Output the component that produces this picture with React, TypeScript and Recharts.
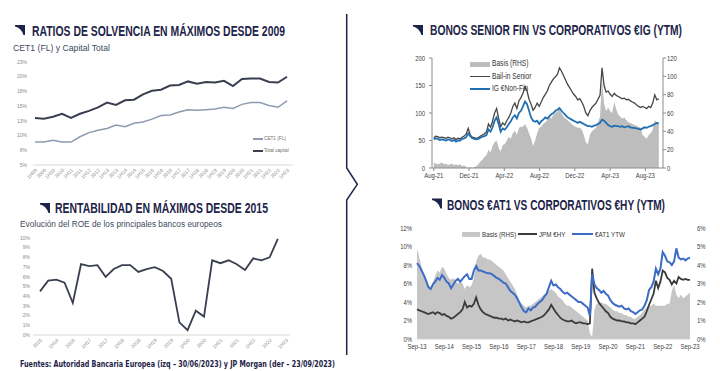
import React from "react";
import { ComposedChart, LineChart, Line, Area, XAxis, YAxis, Legend } from "recharts";

const NAVY = "#1d2449";
const SANS = "'Liberation Sans', Arial, sans-serif";

// ---- Ratios de solvencia (CET1 FL y Capital Total, %)
const SOLV_LABELS = [
  "1H09", "2009", "1H10", "2010", "1H11", "2011", "1H12", "2012", "1H13", "2013",
  "1H14", "2014", "1H15", "2015", "1H16", "2016", "1H17", "2017", "1H18", "2018",
  "1H19", "2019", "1H20", "2020", "1H21", "2021", "1H22", "2022", "1H23",
];
const CET1 = [
  8.9, 8.9, 9.2, 8.9, 8.9, 9.8, 10.5, 10.9, 11.2, 11.8, 11.5, 12.1, 12.3, 12.8, 13.4,
  13.5, 14.0, 14.4, 14.3, 14.4, 14.5, 14.8, 14.6, 15.3, 15.6, 15.6, 15.1, 14.8, 15.9,
];
const TOTAL_CAPITAL = [
  13.0, 12.85, 13.2, 13.7, 13.0, 13.7, 14.2, 14.8, 15.6, 15.2, 16.0, 16.1, 17.0, 17.6, 17.8,
  18.5, 18.6, 19.2, 18.8, 19.1, 19.0, 19.3, 18.4, 19.6, 19.7, 19.7, 19.1, 19.0, 20.0,
];
const SOLV_TICKS = [5, 7.5, 10, 12.5, 15, 17.5, 20, 22.5];

// ---- ROE principales bancos europeos (%), trimestral
const ROE_PERIODS = [
  "2015", "1Q16", "1H16", "3Q16", "2016", "1Q17", "1H17", "3Q17", "2017", "1Q18", "1H18",
  "3Q18", "2018", "1Q19", "1H19", "3Q19", "2019", "1Q20", "1H20", "3Q20", "2020", "1Q21",
  "1H21", "3Q21", "2021", "1Q22", "1H22", "3Q22", "2022", "1Q23", "1H23",
];
const ROE = [
  4.5, 5.6, 5.7, 5.4, 3.3, 7.3, 7.1, 7.2, 6.0, 6.8, 7.2, 7.2, 6.5, 6.8, 7.0,
  6.6, 5.8, 1.3, 0.5, 2.5, 1.9, 7.7, 7.4, 7.7, 7.3, 6.7, 7.9, 7.7, 8.0, 9.9, null,
];

// ---- Bonos senior fin vs corporativos €IG (semanal, Aug-21 a Sep-23)
const SENIOR_TICK_LABELS = ["Aug-21", "Dec-21", "Apr-22", "Aug-22", "Dec-22", "Apr-23", "Aug-23"];
const BAIL_IN = [
  55, 58, 57, 55, 56, 55, 54, 56, 55, 53, 55, 52, 54, 53, 56, 58, 62, 72, 60, 56, 55, 54,
  55, 58, 60, 62, 66, 80, 74, 85, 100, 108, 90, 75, 82, 78, 86, 92, 100, 112, 118, 108, 122, 128,
  136, 148, 140, 125, 116, 105, 110, 118, 112, 120, 128, 134, 140, 150, 156, 162, 166,
  170, 182, 176, 168, 160, 152, 146, 140, 134, 130, 124, 126, 120, 112, 100, 95, 104, 110,
  114, 118, 125, 132, 182, 150, 138, 140, 134, 130, 136, 132, 130, 128, 126, 127, 124,
  125, 122, 120, 118, 115, 112, 110, 112, 110, 108, 112, 110, 118, 133, 124, 126,
];
const IG_NONFIN = [
  52, 54, 53, 51, 52, 51, 50, 52, 51, 49, 51, 48, 50, 50, 53, 54, 56, 63, 58, 54, 53, 52,
  53, 55, 57, 58, 60, 70, 66, 74, 86, 92, 80, 66, 72, 70, 74, 80, 85, 92, 96, 90, 100, 104,
  112, 121, 116, 104, 92, 86, 84, 86, 80, 85, 88, 92, 90, 94, 98, 100, 104,
  106, 109, 104, 100, 96, 92, 90, 88, 86, 84, 82, 84, 82, 80, 78, 76, 76, 75,
  77, 78, 80, 82, 88, 86, 82, 78, 76, 75, 77, 76, 76, 75, 76, 74, 75,
  76, 74, 73, 73, 72, 71, 70, 72, 74, 73, 75, 76, 78, 80, 82, 81,
];
const BASIS_IG = [
  6, 5, 4, 5, 6, 4, 5, 3, 4, 5, 3, 4, 3, 4, 2, 3, 1, 0, 1, 0, 1, 2,
  4, 7, 9, 12, 14, 20, 17, 24, 28, 30, 22, 18, 25, 26, 30, 34, 32, 38, 41, 36, 44, 45,
  45, 48, 44, 38, 32, 24, 30, 38, 44, 45, 48, 50, 52, 56, 54, 58, 60,
  62, 64, 60, 56, 54, 52, 50, 48, 46, 45, 44, 44, 42, 36, 28, 26, 36, 40,
  42, 44, 50, 56, 96, 70, 62, 66, 62, 60, 72, 64, 58, 56, 54, 55, 52,
  50, 49, 48, 47, 46, 45, 44, 36, 34, 32, 36, 38, 42, 52, 50, 48,
];

// ---- Bonos €AT1 vs corporativos €HY (mensual, Sep-13 a Sep-23, %)
const AT1_TICK_LABELS = [
  "Sep-13", "Sep-14", "Sep-15", "Sep-16", "Sep-17", "Sep-18",
  "Sep-19", "Sep-20", "Sep-21", "Sep-22", "Sep-23",
];
const AT1_YTW = [
  8.2, 7.9, 7.4, 6.9,
  6.3, 5.6, 5.4, 5.9, 6.2, 6.6, 6.4, 6.9, 6.6, 6.2, 6.0, 5.5,
  5.9, 6.3, 6.5, 6.2, 6.5, 6.8, 7.0, 6.5, 6.5, 7.4, 7.9, 7.4,
  7.4, 7.3, 7.2, 7.1, 7.1, 7.0, 6.8, 6.6, 6.5, 6.3, 6.1, 6.0,
  5.6, 5.2, 5.0, 4.8, 4.4, 3.9, 3.4, 3.0, 2.9, 3.3, 3.1, 3.4,
  3.5, 3.8, 4.0, 4.2, 4.6, 4.9, 5.6, 6.3, 5.8, 5.9, 5.6, 5.4,
  5.1, 4.9, 5.0, 4.8, 4.6, 4.4, 4.2, 4.0, 4.0, 3.8, 3.6, 3.4,
  2.5, 7.0, 5.9, 5.5, 5.3, 5.0, 5.2, 4.9, 4.7, 4.2, 3.9, 3.7,
  3.6, 3.5, 3.6, 3.3, 3.2, 3.3, 3.0, 2.9, 2.7, 2.9, 3.1, 3.2,
  3.6, 4.2, 5.3, 5.6, 6.2, 7.6, 7.0, 7.6, 9.4, 9.0, 8.4, 8.3,
  8.0, 8.4, 9.8, 8.8, 8.6, 8.7, 8.5, 8.7, 8.8,
];
const JPM_HY = [
  3.2, 3.1, 3.0, 2.9,
  2.8, 2.7, 2.8, 2.9, 2.7, 2.9, 2.8, 2.6, 2.7, 2.5, 2.4, 2.2,
  2.3, 2.5, 2.7, 2.9, 3.2, 4.0, 3.4, 3.6, 3.5, 3.8, 4.5, 3.7,
  3.2, 2.9, 2.7, 2.6, 2.5, 2.4, 2.3, 2.3, 2.2, 2.2, 2.1, 2.2,
  2.0, 2.1, 2.0, 1.9, 2.0, 1.9, 1.8, 1.9, 1.8, 1.8, 1.9, 2.0,
  2.1, 2.2, 2.3, 2.4, 2.6, 2.9, 3.2, 3.7, 3.3, 2.9, 2.6, 2.3,
  2.1, 2.0, 1.9, 1.9, 2.0, 1.8, 1.7, 1.8, 1.8, 1.7, 1.7, 1.6,
  1.7, 7.6, 5.0, 4.4, 3.9, 3.6, 3.3, 3.0, 2.8, 2.4, 2.2, 2.1,
  2.0, 2.0, 1.9, 1.9, 1.8, 1.8, 1.7, 1.7, 1.6, 1.8, 2.0, 2.2,
  2.4, 3.0, 3.7, 4.3, 4.9, 6.3, 5.5, 6.2, 7.4, 7.2, 6.6, 6.4,
  5.9, 6.3, 6.0, 6.7, 6.5, 6.4, 6.5, 6.4, 6.4,
];
const BASIS_HY = [
  4.9, 4.4, 3.9, 3.5,
  3.1, 2.9, 2.8, 3.1, 3.4, 3.7, 3.6, 3.9, 3.8, 3.5, 3.3, 3.2,
  3.3, 3.1, 3.0, 3.1, 3.0, 2.7, 2.9, 2.8, 2.9, 3.3, 4.2, 4.5,
  4.6, 4.4, 4.4, 4.3, 4.3, 4.2, 4.1, 4.0, 3.9, 3.8, 3.7, 3.5,
  3.3, 3.1, 2.9, 2.7, 2.4, 2.1, 1.9, 1.8, 1.7, 1.8, 1.8, 1.9,
  2.0, 2.1, 2.2, 2.3, 2.4, 2.5, 2.6, 2.7, 2.6, 2.5, 2.3, 2.2,
  2.1, 1.9, 1.8, 1.8, 1.7, 1.6, 1.5, 1.4, 1.3, 1.2, 1.1, 1.0,
  0.3, 0.1, 1.6, 1.9, 1.9, 2.0, 1.9, 1.9, 1.8, 1.7, 1.6, 1.5,
  1.5, 1.4, 1.4, 1.3, 1.3, 1.2, 1.2, 1.1, 1.1, 1.2, 1.3, 1.4,
  1.6, 1.7, 1.8, 1.8, 1.9, 1.8, 1.8, 1.8, 1.8, 1.8, 1.9, 1.9,
  2.6, 2.9, 2.4, 2.2, 2.4, 2.2, 2.3, 2.4, 2.5,
];

const CET1_COLOR = "#8d9bb0";
const TOTAL_COLOR = "#3a3f50";
const BAIL_COLOR = "#474747";
const IG_COLOR = "#1f6fb2";
const AT1_COLOR = "#3d6cc6";
const HY_COLOR = "#3b3b3b";

const solvData = SOLV_LABELS.map((label, i) => ({ label, cet1: CET1[i], total: TOTAL_CAPITAL[i] }));
const roeData = ROE_PERIODS.map((period, i) => ({ period, roe: ROE[i] }));
// semanas desde el 2-ago-2021, expresadas en meses
const seniorData = BAIL_IN.map((v, i) => ({
  x: (i * 7) / 30.44,
  bailIn: v,
  ig: IG_NONFIN[i],
  basis: BASIS_IG[i],
}));
const at1Data = AT1_YTW.map((v, i) => ({ m: i, at1: v, hy: JPM_HY[i], basis: BASIS_HY[i] }));

const smallTick = { fontSize: 5, fill: "#8a8a8a", fontFamily: SANS };

// narrow ticks (the reference uses a condensed face)
function narrowTick(anchor: "start" | "middle" | "end", dy: string, fmt: (v: number, i: number) => string) {
  return (props: any) => {
    const { x, y, payload, index } = props;
    return (
      <text
        transform={`translate(${x},${y}) scale(0.78,1)`}
        textAnchor={anchor}
        dy={dy}
        fontSize={7.6}
        fill="#404040"
        fontFamily={SANS}
      >
        {fmt(payload.value, index)}
      </text>
    );
  };
}

const Narrow = ({ children, k = 0.8 }: { children: React.ReactNode; k?: number }) => (
  <span style={{ display: "inline-block", transform: `scaleX(${k})`, transformOrigin: "left center", whiteSpace: "nowrap" }}>
    {children}
  </span>
);

const SolvLegend = () => (
  <div style={{ fontFamily: SANS, fontSize: 5.5, color: "#707070", lineHeight: "11.7px" }}>
    {[
      { name: "CET1 (FL)", color: CET1_COLOR, w: 1.5 },
      { name: "Total capital", color: TOTAL_COLOR, w: 2 },
    ].map((d) => (
      <div key={d.name} style={{ display: "flex", alignItems: "center", height: 11.7 }}>
        <span style={{ display: "inline-block", width: 10, height: d.w, background: d.color, marginRight: 1 }} />
        <Narrow k={0.85}>{d.name}</Narrow>
      </div>
    ))}
  </div>
);

const SeniorLegend = () => (
  <div style={{ fontFamily: SANS, fontSize: 8.2, color: "#333", lineHeight: "12.5px" }}>
    {[
      { name: "Basis (RHS)", color: "#bdbdbd", h: 5 },
      { name: "Bail-in Senior", color: BAIL_COLOR, h: 1.3 },
      { name: "IG €Non-Fin", color: IG_COLOR, h: 1.8 },
    ].map((d) => (
      <div key={d.name} style={{ display: "flex", alignItems: "center", height: 12.5 }}>
        <span style={{ display: "inline-block", width: 20, height: d.h, background: d.color, marginRight: 2 }} />
        <Narrow k={0.81}>{d.name}</Narrow>
      </div>
    ))}
  </div>
);

const At1Legend = () => (
  <div style={{ position: "relative", fontFamily: SANS, fontSize: 7.8, color: "#333", height: 10 }}>
    {[
      { name: "Basis (RHS)", color: "#c6c6c6", h: 5, x: 0, w: 18 },
      { name: "JPM €HY", color: HY_COLOR, h: 1.8, x: 56, w: 19 },
      { name: "€AT1 YTW", color: AT1_COLOR, h: 2, x: 110, w: 21 },
    ].map((d) => (
      <div key={d.name} style={{ position: "absolute", left: d.x, top: 0, display: "flex", alignItems: "center", height: 10, whiteSpace: "nowrap" }}>
        <span style={{ display: "inline-block", width: d.w, height: d.h, background: d.color, marginRight: 1.5 }} />
        <Narrow k={0.8}>{d.name}</Narrow>
      </div>
    ))}
  </div>
);

function SolvencyChart() {
  return (
    <LineChart width={300} height={190} data={solvData} margin={{ top: 62, right: 7, bottom: 0, left: 0 }}>
      <XAxis
        dataKey="label"
        interval={0}
        angle={-45}
        textAnchor="end"
        height={25}
        padding={{ left: 2, right: 6 }}
        tick={smallTick}
        tickLine={false}
        tickSize={0}
        tickMargin={3}
        axisLine={{ stroke: "#d9d9d9" }}
      />
      <YAxis
        width={33}
        domain={[5, 22.5]}
        ticks={SOLV_TICKS}
        interval={0}
        tickFormatter={(v: number) => `${Math.round(v)}%`}
        tick={smallTick}
        axisLine={false}
        tickLine={false}
        tickSize={0}
        tickMargin={6}
      />
      <Line dataKey="cet1" stroke={CET1_COLOR} strokeWidth={1.5} dot={false} isAnimationActive={false} />
      <Line dataKey="total" stroke={TOTAL_COLOR} strokeWidth={2} dot={false} isAnimationActive={false} />
      <Legend
        layout="horizontal"
        verticalAlign="middle"
        align="center"
        wrapperStyle={{ left: 253, top: 133, width: 60, height: 24 }}
        content={() => <SolvLegend />}
      />
    </LineChart>
  );
}

function RoeChart() {
  return (
    <LineChart width={300} height={175} data={roeData} margin={{ top: 48, right: 10, bottom: 0, left: 0 }}>
      <XAxis
        dataKey="period"
        interval={1}
        angle={-45}
        textAnchor="end"
        height={30}
        padding={{ left: 7, right: 4 }}
        tick={smallTick}
        tickLine={false}
        tickSize={0}
        tickMargin={3}
        axisLine={{ stroke: "#d9d9d9" }}
      />
      <YAxis
        width={33}
        domain={[0, 10]}
        ticks={[0, 1, 2, 3, 4, 5, 6, 7, 8, 9, 10]}
        interval={0}
        tickFormatter={(v: number) => `${v}%`}
        tick={smallTick}
        axisLine={false}
        tickLine={false}
        tickSize={0}
        tickMargin={3}
      />
      <Line dataKey="roe" stroke={TOTAL_COLOR} strokeWidth={1.8} dot={false} isAnimationActive={false} />
    </LineChart>
  );
}

function SeniorChart() {
  return (
    <ComposedChart width={340} height={190} data={seniorData} margin={{ top: 58, right: 0, bottom: 0, left: 0 }}>
      <XAxis
        type="number"
        dataKey="x"
        domain={[-0.2, 26]}
        ticks={[0, 4, 8, 12, 16, 20, 24]}
        interval={0}
        tick={narrowTick("middle", "0.71em", (_v, i) => SENIOR_TICK_LABELS[i])}
        height={22}
        tickSize={3}
        tickMargin={2}
        axisLine={{ stroke: "#8c8c8c" }}
        tickLine={{ stroke: "#8c8c8c" }}
        allowDataOverflow
      />
      <YAxis
        yAxisId="l"
        width={52}
        domain={[0, 200]}
        ticks={[0, 50, 100, 150, 200]}
        interval={0}
        tick={narrowTick("end", "0.355em", (v) => `${v}`)}
        tickSize={3}
        tickMargin={4}
        axisLine={{ stroke: "#8c8c8c" }}
        tickLine={{ stroke: "#8c8c8c" }}
      />
      <YAxis
        yAxisId="r"
        orientation="right"
        width={57}
        domain={[0, 120]}
        ticks={[0, 20, 40, 60, 80, 100, 120]}
        interval={0}
        tick={narrowTick("start", "0.355em", (v) => `${v}`)}
        tickSize={3}
        tickMargin={1}
        axisLine={{ stroke: "#8c8c8c" }}
        tickLine={{ stroke: "#8c8c8c" }}
      />
      <Area yAxisId="r" dataKey="basis" fill="#bdbdbd" fillOpacity={1} stroke="none" isAnimationActive={false} />
      <Line yAxisId="l" dataKey="bailIn" stroke={BAIL_COLOR} strokeWidth={1.3} dot={false} isAnimationActive={false} />
      <Line yAxisId="l" dataKey="ig" stroke={IG_COLOR} strokeWidth={1.8} dot={false} isAnimationActive={false} />
      <Legend
        layout="horizontal"
        verticalAlign="middle"
        align="center"
        wrapperStyle={{ left: 90, top: 58, width: 90, height: 38 }}
        content={() => <SeniorLegend />}
      />
    </ComposedChart>
  );
}

function At1Chart() {
  return (
    <ComposedChart width={340} height={175} data={at1Data} margin={{ top: 38, right: 0, bottom: 0, left: 0 }}>
      <XAxis
        type="number"
        dataKey="m"
        domain={[0, 120]}
        ticks={[0, 12, 24, 36, 48, 60, 72, 84, 96, 108, 120]}
        interval={0}
        tick={narrowTick("middle", "0.71em", (_v, i) => AT1_TICK_LABELS[i])}
        height={26}
        tickLine={false}
        tickSize={0}
        tickMargin={5}
        axisLine={{ stroke: "#d0d0d0" }}
      />
      <YAxis
        yAxisId="l"
        width={37}
        domain={[0, 12]}
        ticks={[0, 2, 4, 6, 8, 10, 12]}
        interval={0}
        tick={narrowTick("end", "0.355em", (v) => `${v}%`)}
        axisLine={false}
        tickLine={false}
        tickSize={0}
        tickMargin={5}
      />
      <YAxis
        yAxisId="r"
        orientation="right"
        width={30}
        domain={[0, 6]}
        ticks={[0, 1, 2, 3, 4, 5, 6]}
        interval={0}
        tick={narrowTick("start", "0.355em", (v) => `${v}%`)}
        axisLine={false}
        tickLine={false}
        tickSize={0}
        tickMargin={7}
      />
      <Area yAxisId="r" dataKey="basis" fill="#c6c6c6" fillOpacity={1} stroke="none" isAnimationActive={false} />
      <Line yAxisId="l" dataKey="hy" stroke={HY_COLOR} strokeWidth={1.8} dot={false} isAnimationActive={false} />
      <Line yAxisId="l" dataKey="at1" stroke={AT1_COLOR} strokeWidth={2} dot={false} isAnimationActive={false} />
      <Legend
        layout="horizontal"
        verticalAlign="middle"
        align="center"
        wrapperStyle={{ left: 82, top: 39.3, width: 180, height: 10 }}
        content={() => <At1Legend />}
      />
    </ComposedChart>
  );
}

const Flag = ({ x, y }: { x: number; y: number }) => (
  <path d={`M${x} ${y} L${x + 10} ${y} L${x + 10} ${y + 10} L${x + 8.5} ${y + 10} Q${x + 6} ${y + 3} ${x} ${y + 1.6} Z`} fill={NAVY} />
);

// title drawn in Liberation Sans Bold, squeezed horizontally to the condensed width of the reference
const Title = ({ x, y, w, sx, children }: { x: number; y: number; w: number; sx: number; children: string }) => (
  <text
    transform={`translate(${x},${y}) scale(${sx},1)`}
    fontFamily={SANS}
    fontWeight={700}
    fontSize={14}
    fill={NAVY}
    textLength={w / sx}
    lengthAdjust="spacingAndGlyphs"
  >
    {children}
  </text>
);

export default function App() {
  const subStyle = { fontFamily: SANS, fontSize: 8.5, fill: "#3e4a5c" } as const;
  return (
    <div style={{ position: "absolute", left: 0, top: 0, width: 720, height: 371, background: "#fff", overflow: "hidden" }}>
      <div style={{ position: "absolute", left: 0, top: 0 }}>
        <SolvencyChart />
      </div>
      <div style={{ position: "absolute", left: 0, top: 190 }}>
        <RoeChart />
      </div>
      <div style={{ position: "absolute", left: 380, top: 0 }}>
        <SeniorChart />
      </div>
      <div style={{ position: "absolute", left: 380, top: 190 }}>
        <At1Chart />
      </div>
      <svg width={720} height={371} style={{ position: "absolute", left: 0, top: 0, pointerEvents: "none" }}>
        <Flag x={15} y={25} />
        <Title x={32} y={35.5} w={253} sx={0.74}>RATIOS DE SOLVENCIA EN MÁXIMOS DESDE 2009</Title>
        <text x={13} y={50.7} {...subStyle} textLength={97} lengthAdjust="spacingAndGlyphs">
          CET1 (FL) y Capital Total
        </text>

        <Flag x={40} y={203} />
        <Title x={55} y={213.3} w={213} sx={0.745}>RENTABILIDAD EN MÁXIMOS DESDE 2015</Title>
        <text x={20} y={227.3} {...subStyle} textLength={202} lengthAdjust="spacingAndGlyphs">
          Evolución del ROE de los principales bancos europeos
        </text>

        <Flag x={413} y={25} />
        <Title x={430} y={35.3} w={252} sx={0.73}>BONOS SENIOR FIN VS CORPORATIVOS €IG (YTM)</Title>

        <Flag x={432} y={198.5} />
        <Title x={447} y={209.5} w={218} sx={0.72}>BONOS €AT1 VS CORPORATIVOS €HY (YTM)</Title>

        <text
          x={20}
          y={366.5}
          fontFamily="'DejaVu Sans', Verdana, sans-serif"
          fontWeight={700}
          fontSize={8.4}
          fill={NAVY}
          textLength={315}
          lengthAdjust="spacingAndGlyphs"
        >
          Fuentes: Autoridad Bancaria Europea (izq – 30/06/2023) y JP Morgan (der – 23/09/2023)
        </text>

        <polyline
          points="346.7,14 346.7,168 357.3,184.3 346.7,200 346.7,355"
          fill="none"
          stroke={NAVY}
          strokeWidth={1.5}
        />
      </svg>
    </div>
  );
}
